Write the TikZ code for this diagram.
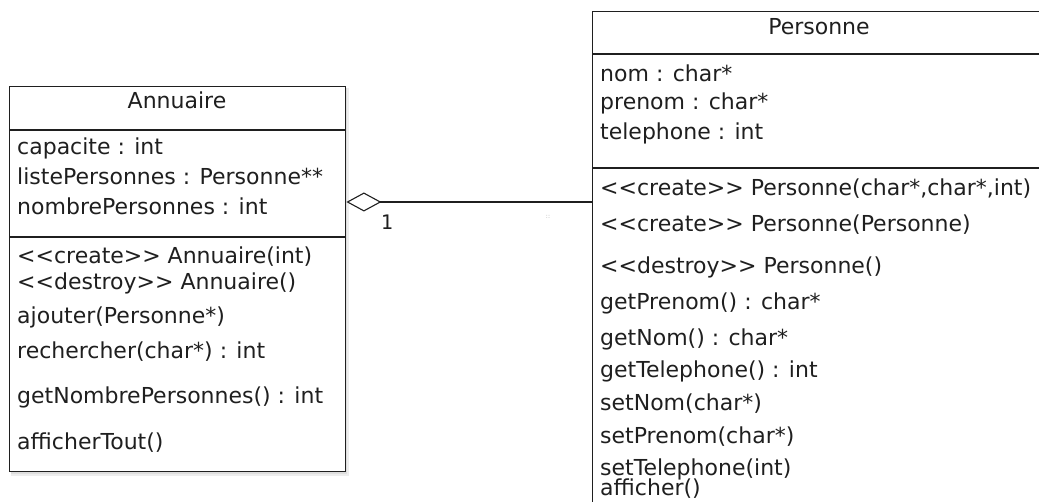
\documentclass[tikz,border=0pt]{standalone}
\usepackage{fontspec}
\setmainfont{DejaVu Sans}
\newfontfamily\monofont{DejaVu Sans Mono}
\usetikzlibrary{arrows.meta}
\begin{document}
\begin{tikzpicture}[x=1pt,y=-1pt,
 box/.style={draw=black!88, fill=white, line width=1.4pt, inner sep=0pt, anchor=north west},
 member/.style={anchor=mid west, inner sep=0pt, yshift=-4pt, text=black!88, font=\fontsize{22}{24}\selectfont},
 classtitle/.style={anchor=mid, inner sep=0pt, yshift=-4pt, text=black!88, font=\fontsize{22}{24}\selectfont},
 sepline/.style={draw=black!88, line width=1.4pt},
 aggr/.style={draw=black!88, line width=1.4pt, {Diamond[open,length=35pt,width=19pt,line width=1.1pt]}-},
 mult/.style={inner sep=0pt, text=black!88, font=\monofont\fontsize{20}{22}\selectfont}
]
\useasboundingbox (0,0) rectangle (1039,502);
\clip (0,0) rectangle (1039,502);
\fill[white] (0,0) rectangle (1039,502);

% Annuaire
\fill[black!7] (11,88) rectangle (349,476);
\fill[black!13] (11,88) rectangle (347,474);
\node[box, minimum width=336pt, minimum height=385pt] (annuaire) at (9,86) {};
\draw[sepline] (9,130) -- (345,130);
\draw[sepline] (9,237) -- (345,237);
\node[classtitle] (atitle) at (177,102) {Annuaire};
\node[member] (a1) at (17,148) {capacite : int};
\node[member] (a2) at (17,178) {listePersonnes : Personne**};
\node[member] (a3) at (17,208) {nombrePersonnes : int};
\node[member] (o1) at (17,257) {<{}<create>{}> Annuaire(int)};
\node[member] (o2) at (17,283) {<{}<destroy>{}> Annuaire()};
\node[member] (o3) at (17,317) {ajouter(Personne*)};
\node[member] (o4) at (17,352) {rechercher(char*) : int};
\node[member] (o5) at (17,397) {getNombrePersonnes() : int};
\node[member] (o6) at (17,443) {afficherTout()};

% Personne
\node[box, minimum width=454pt, minimum height=510pt] (personne) at (592,11) {};
\draw[sepline] (592,54) -- (1046,54);
\draw[sepline] (592,168) -- (1046,168);
\node[classtitle] (ptitle) at (819,28) {Personne};
\node[member] (p1) at (600,75) {nom : char*};
\node[member] (p2) at (600,103) {prenom : char*};
\node[member] (p3) at (600,133) {telephone : int};
\node[member] (q1) at (600,189) {<{}<create>{}> Personne(char*,char*,int)};
\node[member] (q2) at (600,225) {<{}<create>{}> Personne(Personne)};
\node[member] (q3) at (600,267) {<{}<destroy>{}> Personne()};
\node[member] (q4) at (600,303) {getPrenom() : char*};
\node[member] (q5) at (600,339) {getNom() : char*};
\node[member] (q6) at (600,371) {getTelephone() : int};
\node[member] (q7) at (600,404) {setNom(char*)};
\node[member] (q8) at (600,437) {setPrenom(char*)};
\node[member] (q9) at (600,469) {setTelephone(int)};
\node[member] (q10) at (600,489) {afficher()};

% connector
\coordinate (cl) at (0,202);
\draw[aggr] (annuaire.east |- cl) -- (personne.west |- cl);
\node[mult] (m1) at (387,222) {1};
\node[inner sep=0pt, text=black!30, font=\fontsize{6}{6}\selectfont] (m2) at (548,217) {::};
\end{tikzpicture}
\end{document}
